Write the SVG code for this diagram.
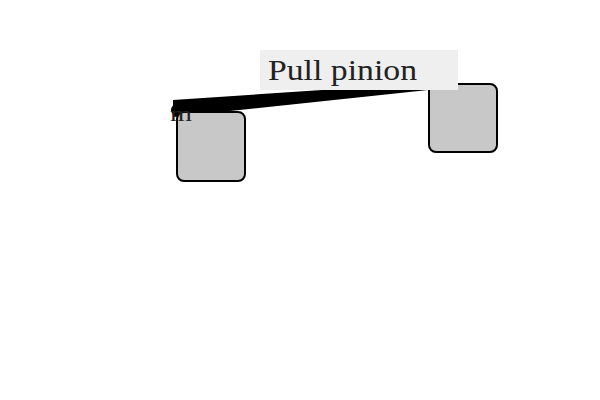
<svg xmlns="http://www.w3.org/2000/svg" width="600" height="400" viewBox="0 0 600 400">
<style>
.node{fill:#c8c8c8;stroke:#000;stroke-width:2}
.lbl{font-family:"Liberation Serif","DejaVu Serif",serif;fill:#222}
</style>
<rect width="600" height="400" fill="#fff"/>
<g id="connectors">
<polygon points="173,100 428,83 428,90 173,117" fill="#000"/>
<circle cx="177" cy="110" r="6" fill="#000"/>
</g>
<g id="node-a"><rect class="node" x="177" y="112" width="68" height="69" rx="7"/></g>
<g id="node-b"><rect class="node" x="429" y="84" width="68" height="68" rx="7"/></g>
<g id="label-m"><text class="lbl" x="170" y="121" font-size="22" textLength="22" lengthAdjust="spacingAndGlyphs">m</text></g>
<g id="edge-label">
<rect x="260" y="50" width="198" height="40" fill="#efefef"/>
<text class="lbl" x="268" y="80" font-size="30" textLength="149" lengthAdjust="spacingAndGlyphs">Pull pinion</text>
</g>
</svg>
